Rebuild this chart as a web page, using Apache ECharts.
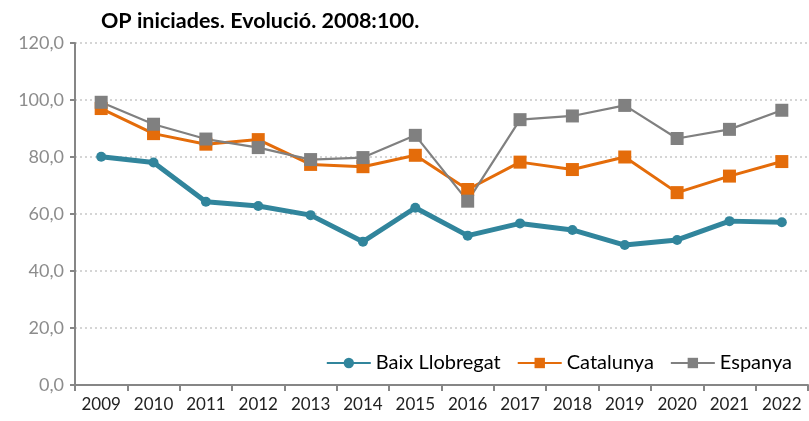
<!DOCTYPE html>
<html>
<head>
<meta charset="utf-8">
<script src="https://cdn.jsdelivr.net/npm/echarts@6/dist/echarts.min.js"></script>
<style>
    html, body { margin: 0; padding: 0; background: #fff; }
    #chart { width: 809px; height: 421px; }
</style>
</head>
<body>
<div id="chart"></div>
<script>
const years = ['2009', '2010', '2011', '2012', '2013', '2014', '2015',
    '2016', '2017', '2018', '2019', '2020', '2021', '2022'];
const baixLlobregat = [80.1, 78.1, 64.3, 62.8, 59.6, 50.3, 62.2, 52.4, 56.7, 54.4, 49.1, 50.9, 57.5, 57.1];
const catalunya = [97.0, 88.2, 84.5, 86.1, 77.4, 76.6, 80.6, 68.6, 78.2, 75.6, 80.0, 67.5, 73.3, 78.4];
const espanya = [99.2, 91.5, 86.3, 83.3, 79.1, 79.8, 87.6, 64.5, 93.1, 94.4, 98.1, 86.5, 89.7, 96.4];
const yTicks = [0, 20, 40, 60, 80, 100, 120];

const font = 'Lato';

let myChart = echarts.init(document.getElementById('chart'));
let option = {
    animation: false,
    title: {
        text: 'OP iniciades. Evolució. 2008:100.',
        left: 96,
        top: 5,
        textStyle: {
            fontFamily: font,
            fontSize: 21.5,
            fontWeight: 'bold',
            color: '#000',
        },
    },
    grid: {
        left: 75,
        right: 1,
        top: 43,
        bottom: 36,
    },
    legend: {
        right: 12,
        top: 348,
        itemWidth: 44,
        itemHeight: 13,
        itemGap: 16,
        textStyle: {
            fontFamily: font,
            fontSize: 20,
            color: '#000',
        },
        data: ['Baix Llobregat', 'Catalunya', 'Espanya'],
    },
    xAxis: {
        type: 'category',
        data: years,
        boundaryGap: true,
        axisLine: { lineStyle: { color: '#868686', width: 2 } },
        axisTick: { show: true, length: 6, lineStyle: { color: '#868686', width: 2 } },
        axisLabel: {
            fontFamily: font,
            fontSize: 17,
            color: '#222',
            margin: 11,
            interval: 0,
        },
    },
    yAxis: {
        type: 'value',
        min: yTicks[0],
        max: yTicks[yTicks.length - 1],
        interval: 20,
        axisLine: { show: true, lineStyle: { color: '#868686', width: 2 } },
        axisTick: { show: true, length: 5, lineStyle: { color: '#868686', width: 2 } },
        axisLabel: {
            fontFamily: font,
            fontSize: 18,
            color: '#8c8c8c',
            margin: 11,
            formatter: v => v.toFixed(1).replace('.', ','),
        },
        splitLine: {
            lineStyle: { color: '#c8c8c8', type: [2, 3], width: 1.5 },
        },
    },
    series: [
        {
            name: 'Baix Llobregat',
            type: 'line',
            data: baixLlobregat,
            symbol: 'circle',
            symbolSize: 10,
            color: '#31859c',
            lineStyle: { width: 5 },
            z: 3,
        },
        {
            name: 'Catalunya',
            type: 'line',
            data: catalunya,
            symbol: 'rect',
            symbolSize: 13,
            color: '#e46c0a',
            lineStyle: { width: 3 },
            z: 2,
        },
        {
            name: 'Espanya',
            type: 'line',
            data: espanya,
            symbol: 'rect',
            symbolSize: 13,
            color: '#808080',
            lineStyle: { width: 2.2 },
            z: 2,
        },
    ],
};
myChart.setOption(option);
</script>
</body>
</html>
